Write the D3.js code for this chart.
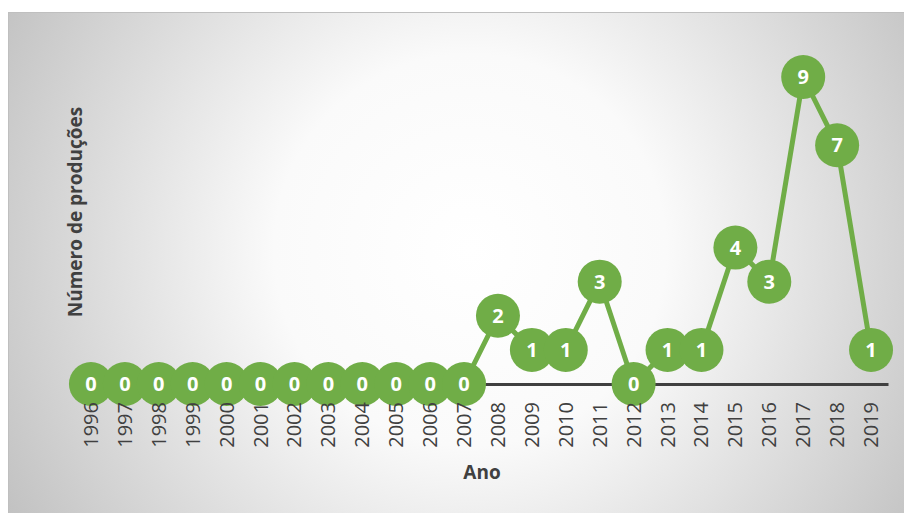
<!DOCTYPE html>
<html>
<head>
<meta charset="utf-8">
<script src="https://cdn.jsdelivr.net/npm/d3@7"></script>
<style>
  body { margin: 0; background: #fff; }
  text { font-family: "Open Sans", "Liberation Sans", sans-serif; }
</style>
</head>
<body>
<svg id="chart" width="904" height="513"></svg>
<script>
// data
const years = ['1996','1997','1998','1999','2000','2001','2002','2003','2004','2005','2006','2007',
               '2008','2009','2010','2011','2012','2013','2014','2015','2016','2017','2018','2019'];
const producoes = [0,0,0,0,0,0,0,0,0,0,0,0, 2,1,1,3,0,1,1,4,3,9,7,1];
const yTitle = 'Número de produções';
const xTitle = 'Ano';

const green = '#70AD47';
const textColor = '#404040';

const svg = d3.select('#chart');

// background with radial gradient
const defs = svg.append('defs');
const grad = defs.append('radialGradient')
    .attr('id', 'bg')
    .attr('gradientUnits', 'userSpaceOnUse')
    .attr('cx', 470).attr('cy', 250).attr('r', 560);
grad.append('stop').attr('offset', 0).attr('stop-color', '#ffffff');
grad.append('stop').attr('offset', 0.35).attr('stop-color', '#fafafa');
grad.append('stop').attr('offset', 1).attr('stop-color', '#bdbdbd');

svg.append('rect')
    .attr('x', 8.5).attr('y', 12.5)
    .attr('width', 904).attr('height', 510)
    .attr('fill', 'url(#bg)')
    .attr('stroke', '#bfbfbf')
    .attr('stroke-width', 1);

const x = d3.scaleBand()
    .domain(years)
    .range([74, 888]);

const y = d3.scaleLinear()
    .domain([0, 9])
    .range([384, 77]);

const cx = d => x(d) + x.bandwidth() / 2;

// axis line (behind the markers)
const xAxis = svg.append('g')
    .attr('transform', 'translate(0,' + y(0) + ')')
    .call(d3.axisBottom(x).tickSize(0).tickPadding(0));
xAxis.select('.domain')
    .attr('stroke', '#404040')
    .attr('stroke-width', 3);
xAxis.selectAll('.tick').remove();

// series line
const line = d3.line()
    .x((d, i) => cx(years[i]))
    .y(d => y(d));

svg.append('path')
    .datum(producoes)
    .attr('d', line)
    .attr('fill', 'none')
    .attr('stroke', green)
    .attr('stroke-width', 5)
    .attr('stroke-linejoin', 'round');

// markers with labels
const pts = svg.selectAll('g.pt')
  .data(producoes)
  .enter().append('g')
    .attr('class', 'pt')
    .attr('transform', (d, i) => 'translate(' + cx(years[i]) + ',' + y(d) + ')');

pts.append('circle')
    .attr('r', 22)
    .attr('fill', green);

pts.append('text')
    .attr('text-anchor', 'middle')
    .attr('dy', '0.36em')
    .attr('fill', '#ffffff')
    .attr('font-weight', 'bold')
    .attr('font-size', 20)
    .text(d => d);

// tick labels drawn over the markers
const ticks = svg.append('g')
    .attr('transform', 'translate(0,' + y(0) + ')')
    .call(d3.axisBottom(x).tickSize(0).tickPadding(0));
ticks.select('.domain').remove();
ticks.selectAll('.tick text')
    .attr('transform', 'rotate(-90)')
    .attr('text-anchor', 'end')
    .attr('x', -18)
    .attr('y', 0)
    .attr('dy', '0.35em')
    .attr('fill', textColor)
    .attr('font-size', 20)
    .style('font-family', '"Open Sans", sans-serif');

// axis titles
svg.append('text')
    .attr('x', 482)
    .attr('y', 479)
    .attr('text-anchor', 'middle')
    .attr('font-weight', 'bold')
    .attr('font-size', 19)
    .attr('fill', textColor)
    .text(xTitle);

svg.append('text')
    .attr('transform', 'translate(82,212) rotate(-90)')
    .attr('text-anchor', 'middle')
    .attr('font-weight', 'bold')
    .attr('font-size', 19)
    .attr('fill', textColor)
    .text(yTitle);
</script>
</body>
</html>
